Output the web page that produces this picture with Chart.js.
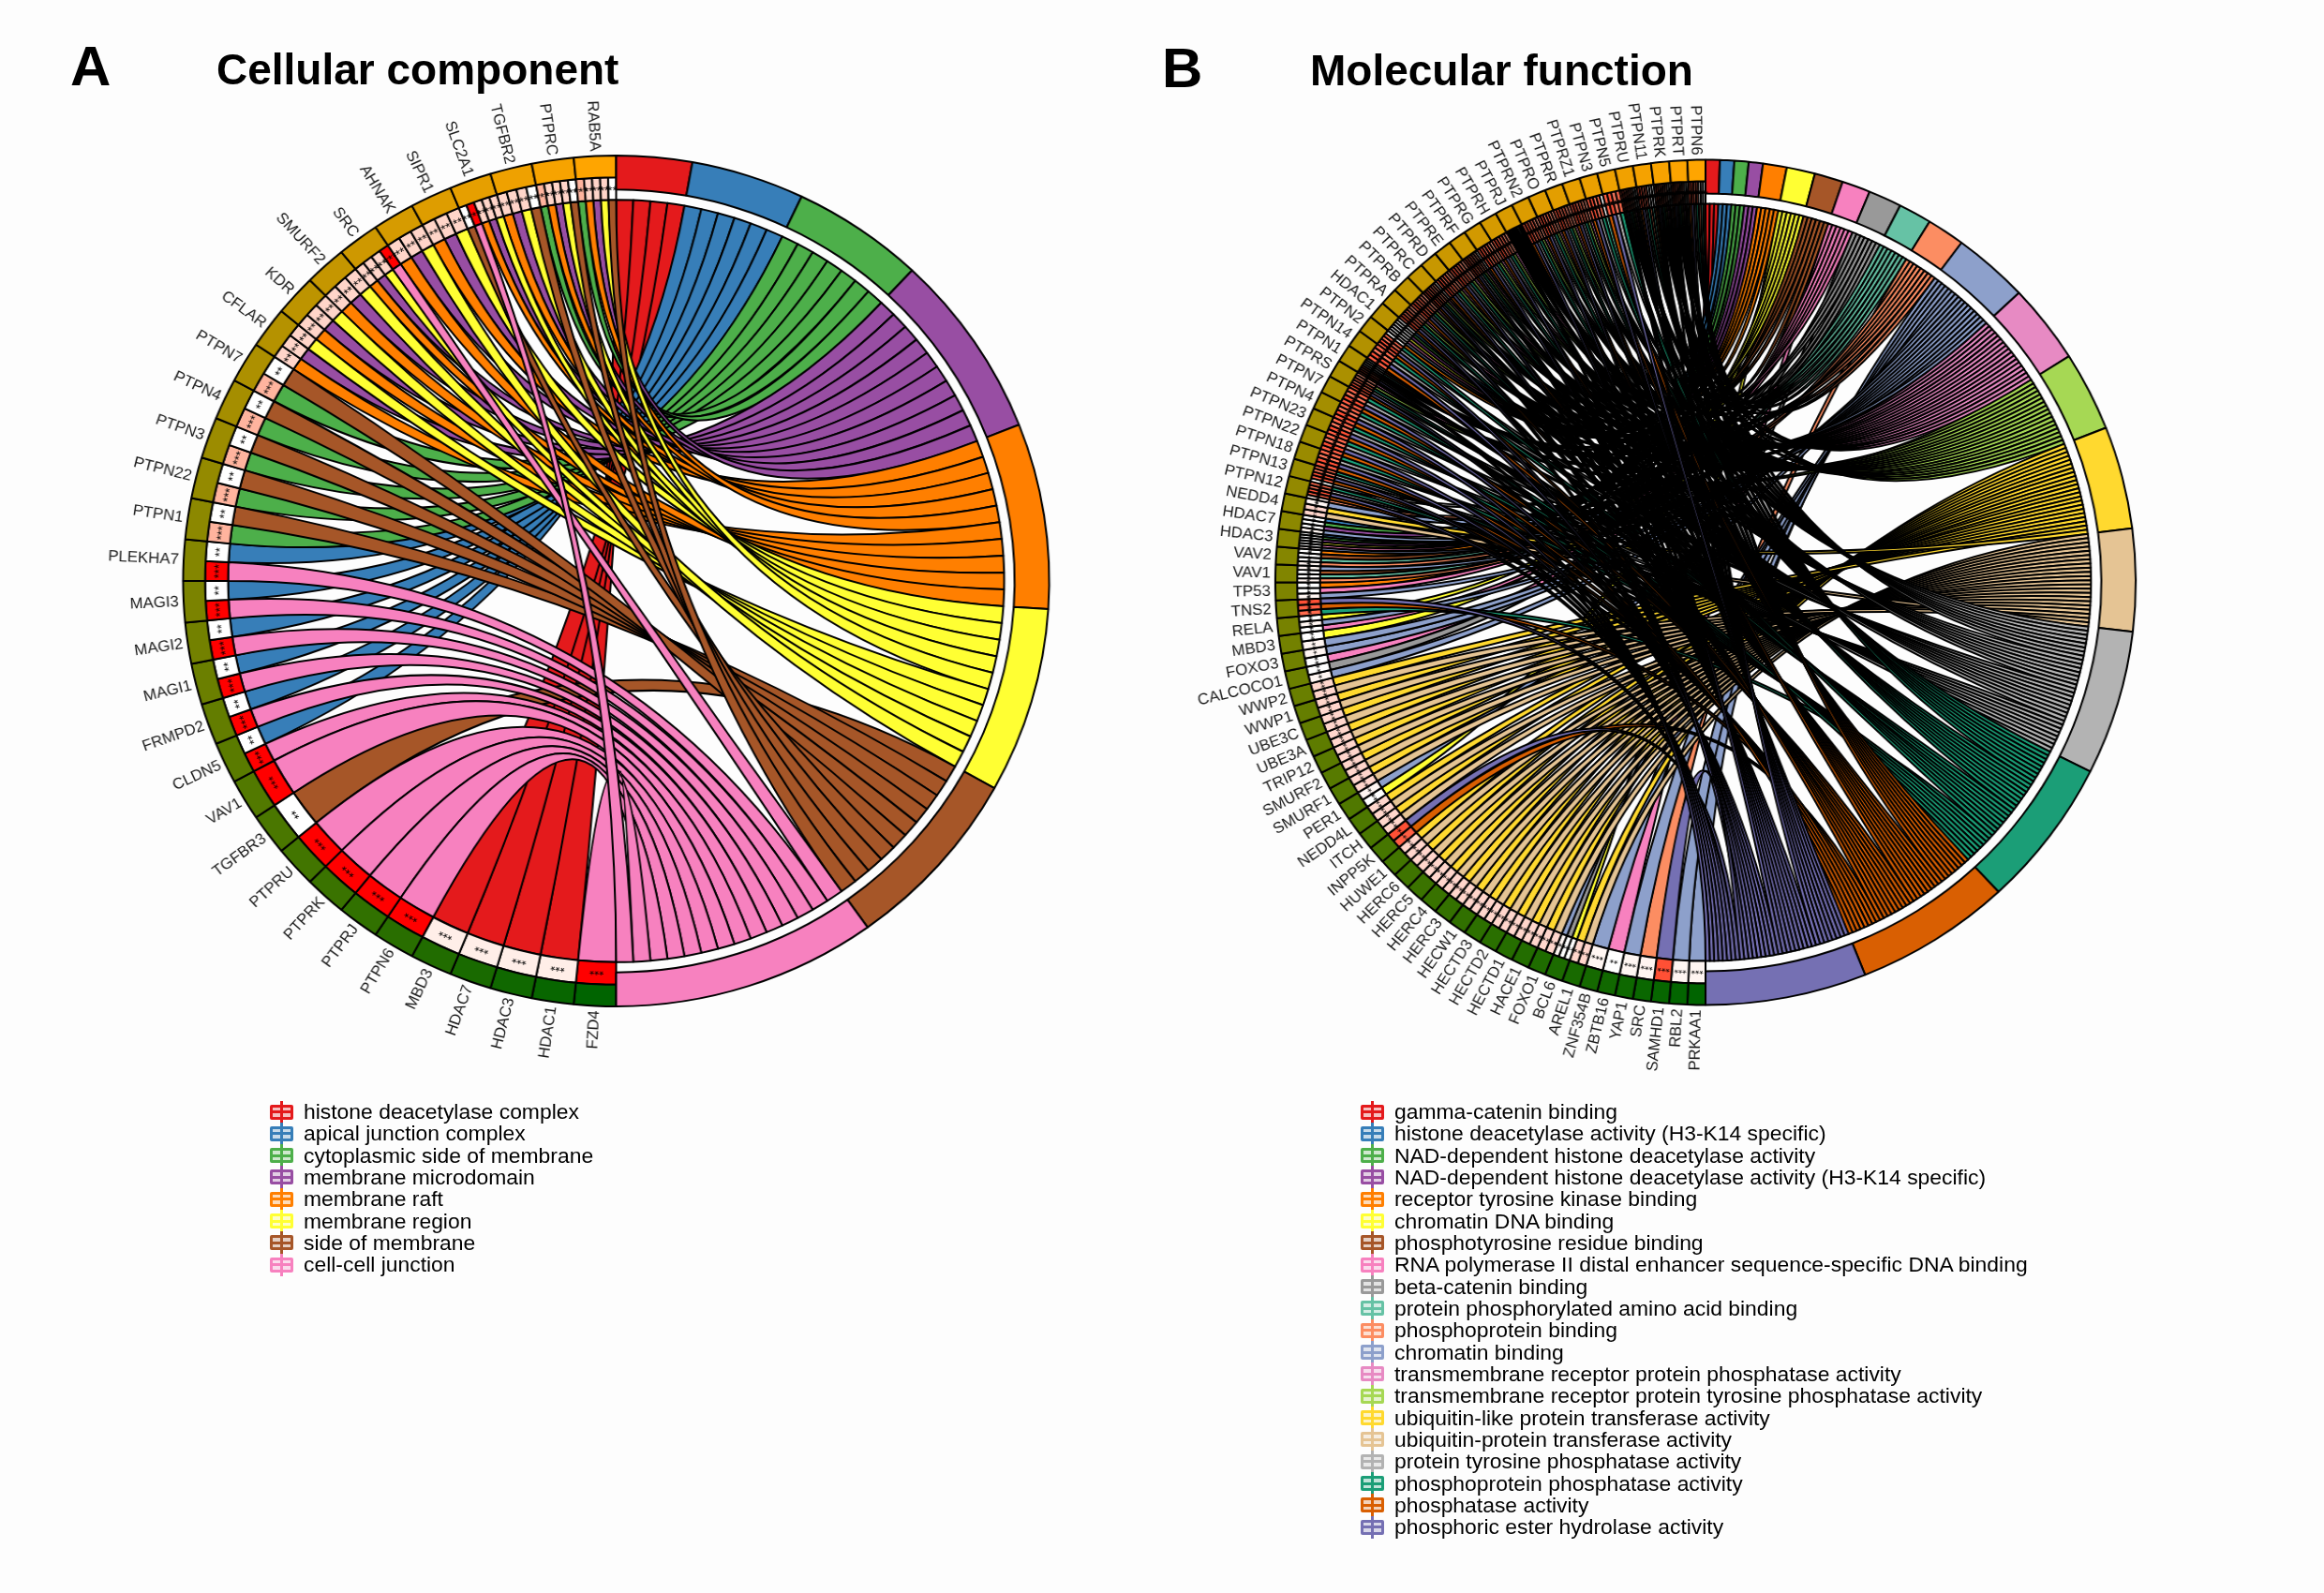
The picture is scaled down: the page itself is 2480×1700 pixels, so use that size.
<!DOCTYPE html>
<html>
<head>
<meta charset="utf-8">
<script src="https://cdn.jsdelivr.net/npm/chart.js@4"></script>
<style>
  html, body { margin: 0; padding: 0; background: #fdfdfd; }
  body { position: relative; width: 2480px; height: 1700px; overflow: hidden; font-family: "Liberation Sans", Arial, sans-serif; color: #000; }
  canvas { position: absolute; top: 0; }
  #chartA { left: 0; transform-origin: 657.5px 0; transform: scaleX(1.018); }
  #chartB { left: 1240px; transform-origin: 580.5px 0; transform: scaleX(1.018); }
  .head { position: absolute; font-weight: bold; white-space: nowrap; line-height: 1; }
  .legend { position: absolute; top: 1175px; }
  .row { position: relative; height: 23.33px; line-height: 23.33px; font-size: 22.9px; white-space: nowrap; padding-left: 36px; }
  .key { position: absolute; left: 0; top: 3.5px; width: 19px; height: 10px; border: 3px solid; border-radius: 2px; }
  .key i { position: absolute; left: -3px; right: -3px; top: 3.5px; height: 3px; }
  .key b { position: absolute; left: 8px; top: -7px; bottom: -7px; width: 3px; }
</style>
</head>
<body>
<canvas id="chartA" width="1240" height="1700"></canvas>
<canvas id="chartB" width="1240" height="1700"></canvas>
<div class="head" style="left:75px;top:41px;font-size:60px">A</div>
<div class="head" style="left:231px;top:51px;font-size:46px">Cellular component</div>
<div class="head" style="left:1240px;top:43px;font-size:60px">B</div>
<div class="head" style="left:1398px;top:52px;font-size:46px">Molecular function</div>
<div class="legend" id="legendA" style="left:288px"></div>
<div class="legend" id="legendB" style="left:1452px"></div>
<script>
// panel A
const aTerms = ['histone deacetylase complex', 'apical junction complex', 'cytoplasmic side of membrane', 'membrane microdomain', 'membrane raft', 'membrane region', 'side of membrane', 'cell-cell junction'];
const aColors = ['#E41A1C', '#377EB8', '#4DAF4A', '#984EA3', '#FF7F00', '#FFFF33', '#A65628', '#F781BF'];
const aShades = ['#ffeee8', '#ffffff', '#ffb49e', '#ffd5c9', '#ffd5c9', '#ffd5c9', '#ffffff', '#ff0000'];
const aStars = ['***', '**', '***', '**', '**', '**', '**', '***'];
// genes run clockwise from the bottom of the circle to the top
const aGenes = ['FZD4', 'HDAC1', 'HDAC3', 'HDAC7', 'MBD3', 'PTPN6', 'PTPRJ', 'PTPRK', 'PTPRU', 'TGFBR3', 'VAV1', 'CLDN5', 'FRMPD2', 'MAGI1', 'MAGI2', 'MAGI3', 'PLEKHA7', 'PTPN1', 'PTPN22', 'PTPN3', 'PTPN4', 'PTPN7', 'CFLAR', 'KDR', 'SMURF2', 'SRC', 'AHNAK', 'SIPR1', 'SLC2A1', 'TGFBR2', 'PTPRC', 'RAB5A'];
const aLinks = [[7], [0], [0], [0], [0], [7], [7], [7], [7], [6], [7], [7, 1], [7, 1], [7, 1], [7, 1], [7, 1], [7, 1], [2, 6], [2, 6], [2, 6], [2, 6], [2, 6], [4, 3, 5], [4, 3, 5], [4, 3, 5], [4, 3, 5, 7], [4, 3, 5], [4, 3, 5], [6, 7, 4, 3, 5], [4, 3, 5, 6], [2, 4, 3, 5, 6], [2, 4, 3, 5, 6]];
const aSlotOrder = { 7: ['SRC', 'PLEKHA7', 'MAGI3', 'MAGI2', 'MAGI1', 'FRMPD2', 'CLDN5', 'VAV1', 'PTPRU', 'PTPRK', 'PTPRJ', 'PTPN6', 'FZD4', 'SLC2A1'] };
const aBands = { 4: 2, 5: 2 };

// panel B
const bTerms = ['gamma-catenin binding', 'histone deacetylase activity (H3-K14 specific)', 'NAD-dependent histone deacetylase activity', 'NAD-dependent histone deacetylase activity (H3-K14 specific)', 'receptor tyrosine kinase binding', 'chromatin DNA binding', 'phosphotyrosine residue binding', 'RNA polymerase II distal enhancer sequence-specific DNA binding', 'beta-catenin binding', 'protein phosphorylated amino acid binding', 'phosphoprotein binding', 'chromatin binding', 'transmembrane receptor protein phosphatase activity', 'transmembrane receptor protein tyrosine phosphatase activity', 'ubiquitin-like protein transferase activity', 'ubiquitin-protein transferase activity', 'protein tyrosine phosphatase activity', 'phosphoprotein phosphatase activity', 'phosphatase activity', 'phosphoric ester hydrolase activity'];
const bColors = ['#E41A1C', '#377EB8', '#4DAF4A', '#984EA3', '#FF7F00', '#FFFF33', '#A65628', '#F781BF', '#999999', '#66C2A5', '#FC8D62', '#8DA0CB', '#E78AC3', '#A6D854', '#FFD92F', '#E5C494', '#B3B3B3', '#1B9E77', '#D95F02', '#7570B3'];
const bShades = ['#ffffff', '#ffffff', '#ffffff', '#ffffff', '#ffffff', '#ffffff', '#ffffff', '#ffffff', '#ffffff', '#ffffff', '#fff4f0', '#fff6f2', '#ff9d85', '#ff8f75', '#ffd6cc', '#ffd6cc', '#ff7a5f', '#ff6a4d', '#ff5f44', '#ff5035'];
const bStars = ['**', '**', '**', '**', '**', '**', '**', '**', '**', '**', '***', '***', '***', '***', '**', '**', '***', '***', '***', '***'];
const bGenes = ['PRKAA1', 'RBL2', 'SAMHD1', 'SRC', 'YAP1', 'ZBTB16', 'ZNF354B', 'AREL1', 'BCL6', 'FOXO1', 'HACE1', 'HECTD1', 'HECTD2', 'HECTD3', 'HECW1', 'HERC3', 'HERC4', 'HERC5', 'HERC6', 'HUWE1', 'INPP5K', 'ITCH', 'NEDD4L', 'PER1', 'SMURF1', 'SMURF2', 'TRIP12', 'UBE3A', 'UBE3C', 'WWP1', 'WWP2', 'CALCOCO1', 'FOXO3', 'MBD3', 'RELA', 'TNS2', 'TP53', 'VAV1', 'VAV2', 'HDAC3', 'HDAC7', 'NEDD4', 'PTPN12', 'PTPN13', 'PTPN18', 'PTPN22', 'PTPN23', 'PTPN4', 'PTPN7', 'PTPRS', 'PTPN1', 'PTPN14', 'PTPN2', 'HDAC1', 'PTPRA', 'PTPRB', 'PTPRC', 'PTPRD', 'PTPRE', 'PTPRF', 'PTPRG', 'PTPRH', 'PTPRJ', 'PTPRN2', 'PTPRO', 'PTPRR', 'PTPRZ1', 'PTPN3', 'PTPN5', 'PTPRU', 'PTPN11', 'PTPRK', 'PTPRT', 'PTPN6'];
const bLinks = [
  [11], [11], [19], [10], [11], [7], [11], [15, 14], [5, 8, 11], [15, 14],
  [15, 14], [15, 14], [15, 14], [15, 14], [15, 14], [15, 14], [15, 14], [15, 14], [15, 14], [15, 14],
  [18, 19], [15, 14], [15, 14], [5, 11], [15, 14], [15, 14], [15, 14], [15, 14], [15, 14], [15, 14],
  [15, 14], [11, 8], [7, 11], [11, 5], [7, 11, 5], [17, 18, 19], [11, 7, 4], [10, 9, 6, 11], [10, 9, 6, 4],
  [11, 7, 5, 3, 2, 1], [11, 3, 2, 1], [15, 14, 11],
  [10, 18, 19, 16, 17], [8, 18, 19, 16, 17], [18, 19, 16, 17], [18, 19, 16, 17], [18, 19, 16, 17], [18, 19, 16, 17], [18, 19, 16, 17],
  [18, 19, 16, 17, 13, 12], [18, 19, 16, 17, 10, 9, 6, 4], [18, 19, 16, 17], [18, 19, 16, 17, 4], [11, 7, 5, 3, 2, 1],
  [18, 19, 16, 17, 13, 12], [18, 19, 16, 17, 13, 12], [18, 19, 16, 17, 13, 12, 10], [18, 19, 16, 17, 13, 12], [18, 19, 16, 17, 13, 12],
  [18, 19, 16, 17, 13, 12, 8], [18, 19, 16, 17, 13, 12], [18, 19, 16, 17, 13, 12], [18, 19, 16, 17, 13, 12, 4, 6, 9],
  [18, 19, 16, 17, 13, 12], [18, 19, 16, 17, 13, 12], [18, 19, 16, 17, 13, 12], [18, 19, 16, 17, 13, 12],
  [18, 19, 16, 17, 9], [18, 19, 16, 17], [18, 19, 16, 17, 13, 12, 0, 8], [18, 19, 16, 17, 10, 9, 6],
  [18, 19, 16, 17, 13, 12, 0, 8], [18, 19, 16, 17, 13, 12, 0, 8], [18, 19, 16, 17, 10, 9, 6]
];
const bBands = { 16: 4, 17: 4, 18: 4, 19: 4 };

const CLEAR = 'rgba(0,0,0,0)';

// dark green at the bottom of the circle to orange at the top
function geneColor(i, n) {
  const f = n > 1 ? i / (n - 1) : 0;
  const r = Math.round(255 * f);
  const g = Math.round(100 + (165 - 100) * f);
  return 'rgb(' + r + ',' + g + ',0)';
}

function chord(id, panel) {
  const cells = [];
  panel.genes.forEach((name, g) => panel.links[g].forEach(t => cells.push({ g, t })));
  const total = cells.length;
  const counts = panel.terms.map((_, t) => cells.filter(c => c.t === t).length);

  // the gene each term's slots go to, in clockwise order
  const slots = panel.terms.map((_, t) => {
    const own = cells.map((c, i) => ({ c, i })).filter(o => o.c.t === t);
    const order = panel.slotOrder && panel.slotOrder[t];
    if (order) own.sort((a, b) => order.indexOf(panel.genes[a.c.g]) - order.indexOf(panel.genes[b.c.g]));
    const bands = panel.bands && panel.bands[t];
    if (!bands) return own.map(o => o.i);
    // upper genes take the first slots, each band keeps its own order
    const out = [];
    for (let b = bands - 1; b >= 0; b--) {
      const from = Math.round(own.length * b / bands), to = Math.round(own.length * (b + 1) / bands);
      own.slice(from, to).forEach(o => out.push(o.i));
    }
    return out;
  });

  const ringPlugin = {
    id: 'chordRings',
    afterDatasetsUpdate(chart) {
      const R = Math.min(chart.chartArea.width, chart.chartArea.height) / 2;
      chart.data.datasets.forEach((ds, d) => {
        chart.getDatasetMeta(d).data.forEach(el => {
          el.outerRadius = R * ds.ringOuter;
          el.innerRadius = R * ds.ringInner;
        });
      });
    },
    beforeDatasetsDraw(chart) {
      const ctx = chart.ctx;
      const termArcs = chart.getDatasetMeta(0).data;
      const cellArcs = chart.getDatasetMeta(2).data;
      const cx = termArcs[0].x, cy = termArcs[0].y;
      const r = termArcs[0].outerRadius * 0.896;
      ctx.save();
      ctx.lineWidth = panel.lineWidth;
      ctx.strokeStyle = '#000';
      ctx.lineJoin = 'round';
      slots.forEach((list, t) => {
        const arc = termArcs[t];
        const step = (arc.endAngle - arc.startAngle) / list.length;
        list.forEach((cellIndex, k) => {
          const a0 = arc.startAngle + k * step, a1 = a0 + step;
          const gene = cellArcs[cellIndex + 1];
          const b0 = gene.startAngle, b1 = gene.endAngle;
          ctx.beginPath();
          ctx.moveTo(cx + r * Math.cos(a0), cy + r * Math.sin(a0));
          ctx.quadraticCurveTo(cx, cy, cx + r * Math.cos(b1), cy + r * Math.sin(b1));
          ctx.arc(cx, cy, r, b1, b0, true);
          ctx.quadraticCurveTo(cx, cy, cx + r * Math.cos(a1), cy + r * Math.sin(a1));
          ctx.arc(cx, cy, r, a1, a0, true);
          ctx.closePath();
          ctx.fillStyle = panel.colors[t];
          ctx.fill();
          ctx.stroke();
        });
      });
      ctx.restore();
    },
    afterDatasetsDraw(chart) {
      const ctx = chart.ctx;
      const geneArcs = chart.getDatasetMeta(1).data;
      const cellArcs = chart.getDatasetMeta(2).data;
      const cx = geneArcs[0].x, cy = geneArcs[0].y;
      const R = geneArcs[0].outerRadius;
      ctx.save();
      ctx.fillStyle = '#000';
      // significance marks
      ctx.font = panel.starSize + 'px "Liberation Sans"';
      ctx.textAlign = 'center';
      ctx.textBaseline = 'middle';
      cells.forEach((c, i) => {
        const el = cellArcs[i + 1];
        const m = (el.startAngle + el.endAngle) / 2;
        const rr = (el.innerRadius + el.outerRadius) / 2;
        ctx.save();
        ctx.translate(cx + rr * Math.cos(m), cy + rr * Math.sin(m));
        ctx.rotate(m + Math.PI / 2);
        ctx.fillText(panel.stars[c.t], 0, panel.starSize * 0.22);
        ctx.restore();
      });
      // gene names read towards the ring
      ctx.font = '16.5px "Liberation Sans"';
      ctx.fillStyle = '#1a1a1a';
      ctx.textAlign = 'right';
      panel.genes.forEach((name, g) => {
        const el = geneArcs[g + 1];
        const m = (el.startAngle + el.endAngle) / 2;
        const rr = R + 5;
        ctx.save();
        ctx.translate(cx + rr * Math.cos(m), cy + rr * Math.sin(m));
        ctx.rotate(m + Math.PI);
        ctx.fillText(name, 0, 0);
        ctx.restore();
      });
      ctx.restore();
    }
  };

  const geneStep = total / panel.genes.length;
  const cellData = [total].concat(cells.map(c => geneStep / panel.links[c.g].length));

  return new Chart(document.getElementById(id), {
    type: 'doughnut',
    data: {
      labels: panel.terms,
      datasets: [
        {
          label: 'terms',
          data: counts.concat([total]),
          backgroundColor: panel.colors.concat([CLEAR]),
          borderColor: panel.colors.map(() => '#000').concat([CLEAR]),
          ringOuter: 1,
          ringInner: 0.92
        },
        {
          label: 'genes',
          data: [total].concat(panel.genes.map(() => geneStep)),
          backgroundColor: [CLEAR].concat(panel.genes.map((_, i) => geneColor(i, panel.genes.length))),
          borderColor: [CLEAR].concat(panel.genes.map(() => '#000')),
          ringOuter: 1,
          ringInner: 0.949
        },
        {
          label: 'cells',
          data: cellData,
          backgroundColor: [CLEAR].concat(cells.map(c => panel.shades[c.t])),
          borderColor: [CLEAR].concat(cells.map(() => '#000')),
          ringOuter: 0.949,
          ringInner: 0.896
        }
      ]
    },
    options: {
      responsive: false,
      animation: false,
      devicePixelRatio: 1,
      layout: { padding: panel.padding },
      borderWidth: panel.lineWidth,
      plugins: { legend: { display: false }, tooltip: { enabled: false }, title: { display: false } },
      events: []
    },
    plugins: [ringPlugin]
  });
}

function legend(id, names, colors) {
  const box = document.getElementById(id);
  names.forEach((name, i) => {
    const row = document.createElement('div');
    row.className = 'row';
    row.innerHTML = '<span class="key" style="border-color:' + colors[i] + ';background:' + colors[i] + '44"><i style="background:' + colors[i] + '"></i><b style="background:' + colors[i] + '"></b></span>';
    row.appendChild(document.createTextNode(name));
    box.appendChild(row);
  });
}

chord('chartA', {
  terms: aTerms, colors: aColors, shades: aShades, stars: aStars, genes: aGenes, links: aLinks, slotOrder: aSlotOrder, bands: aBands,
  lineWidth: 2, starSize: 13,
  padding: { left: 203.5, right: 128.5, top: 166, bottom: 626 }
});
chord('chartB', {
  terms: bTerms, colors: bColors, shades: bShades, stars: bStars, genes: bGenes, links: bLinks, bands: bBands,
  lineWidth: 2, starSize: 11,
  padding: { left: 129, right: 209, top: 170, bottom: 627 }
});
legend('legendA', aTerms, aColors);
legend('legendB', bTerms, bColors);
</script>
</body>
</html>
